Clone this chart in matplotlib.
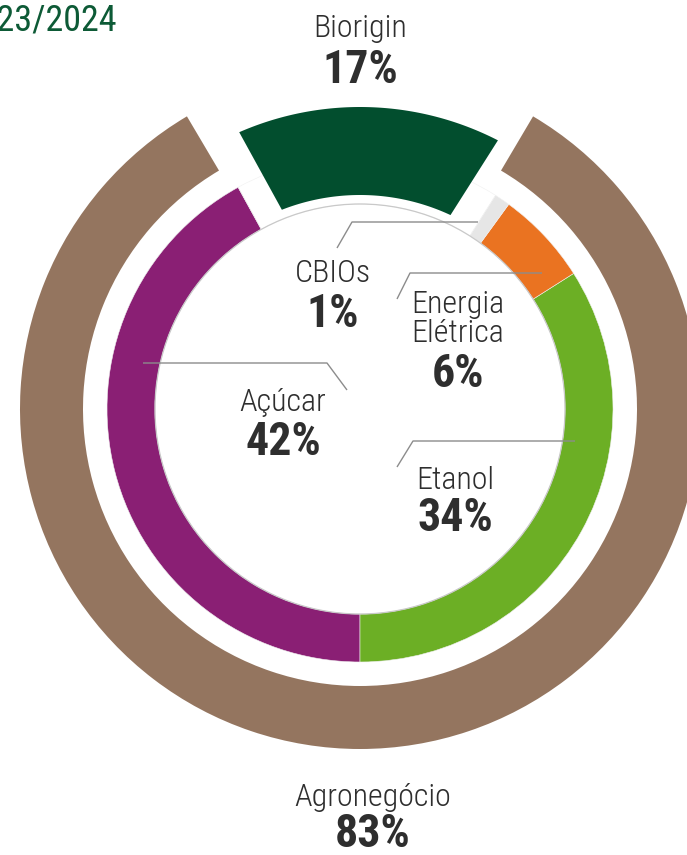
import numpy as np
import matplotlib
matplotlib.use("Agg")
import matplotlib.pyplot as plt
from matplotlib import font_manager
from matplotlib.patches import Polygon, Circle

# ---------------- data ----------------
title = "2023/2024"
inner_labels = ["Açúcar", "Etanol", "Energia\nElétrica", "CBIOs"]
inner_values = [42, 34, 6, 1]
inner_colors = ["#8a1f74", "#6caf25", "#ea7321", "#e6e6e6"]
outer_label = "Agronegócio"
outer_value = 83
outer_color = "#94755f"
bio_label = "Biorigin"
bio_value = 17
bio_color = "#024e2e"

# ---------------- fonts ----------------
fonts = font_manager.fontManager.ttflist
names = {f.name for f in fonts}
FONT, STRETCH, SCALE = "Liberation Sans", "normal", 0.86
for cand in ["Liberation Sans Narrow", "Roboto Condensed", "Arial Narrow", "Open Sans Condensed"]:
    if cand in names:
        FONT, STRETCH, SCALE = cand, "normal", 1.0
        break
else:
    if any(f.name == "DejaVu Sans" and str(f.stretch) in ("condensed", "semi-condensed", "75", "87")
           for f in fonts):
        FONT, STRETCH, SCALE = "DejaVu Sans", "condensed", 0.9
plt.rcParams["font.family"] = [FONT, "DejaVu Sans"]
TXT = "#2e2e2e"
LEAD = "#8c8c8c"

W, H = 687, 855
CX, CY = 360, 409  # chart centre in pixels


def P(px, py):
    return px - CX, CY - py


fig = plt.figure(figsize=(W / 100, H / 100), dpi=100)
ax = fig.add_axes([0, 0, 1, 1])

# ---------------- outer ring ----------------
start_outer = 90 + bio_value / 100 * 360 / 2
ax.pie([outer_value, 100 - outer_value], colors=[outer_color, "none"],
       startangle=start_outer, radius=340, counterclock=True,
       wedgeprops=dict(width=63, linewidth=0))

# ---------------- inner ring ----------------
start_inner = 270 - inner_values[0] / 100 * 360
ax.pie(inner_values + [bio_value], colors=inner_colors + ["none"],
       startangle=start_inner, radius=253, counterclock=True,
       wedgeprops=dict(width=48, linewidth=0.4, edgecolor="#f0f0f0"))
ax.add_patch(Circle((0, 0), 205, fill=False, edgecolor="#c9c9c9", linewidth=0.9, zorder=3))

# ---------------- Biorigin segment (gap of constant width) ----------------
theta_hi = start_inner
theta_lo = start_inner + sum(inner_values) / 100 * 360 - 360
r_in, r_out, gap = 214, 302, 27.5


def arc(r, a0, a1, n=80):
    t = np.radians(np.linspace(a0, a1, n))
    return np.column_stack([r * np.cos(t), r * np.sin(t)])


d_out = np.degrees(np.arcsin(gap / r_out))
d_in = np.degrees(np.arcsin(gap / r_in))
pts = np.vstack([arc(r_out, theta_lo + d_out, theta_hi - d_out),
                 arc(r_in, theta_hi - d_in, theta_lo + d_in)])
ax.add_patch(Polygon(pts, closed=True, facecolor=bio_color, edgecolor="none", zorder=4))

# ---------------- labels ----------------
LS, PS = 23 * SCALE, 33 * SCALE


def label(name, value, px, py_name, py_val):
    x, y = P(px, py_name)
    ax.text(x, y, name, ha="center", va="center", fontsize=LS, color=TXT,
            linespacing=0.98, fontstretch=STRETCH, fontweight="light", zorder=6)
    x, y = P(px, py_val)
    ax.text(x, y, f"{value}%", ha="center", va="center", fontsize=PS,
            fontweight="bold", fontstretch=STRETCH, color=TXT, zorder=6)


def leader(points):
    xy = np.array([P(*p) for p in points])
    ax.plot(xy[:, 0], xy[:, 1], color=LEAD, linewidth=1.0, zorder=5,
            solid_capstyle="butt")


label(bio_label, bio_value, 360, 28, 70)
label(outer_label, outer_value, 373, 798, 834)
label(inner_labels[3], inner_values[3], 333, 273, 314)
label(inner_labels[2], inner_values[2], 458, 319, 374)
label(inner_labels[0], inner_values[0], 283, 402, 442)
label(inner_labels[1], inner_values[1], 455, 480, 518)

leader([(337, 248), (352, 222), (478, 222)])
leader([(397, 299), (410, 273), (542, 273)])
leader([(143, 363), (327, 363), (347, 390)])
leader([(397, 467), (413, 441), (575, 441)])

# ---------------- title (left part cut by the figure edge) ----------------
x, y = P(117, 20)
ax.text(x, y, title, ha="right", va="center", fontsize=26 * SCALE, color="#0d5a36",
        fontstretch=STRETCH)

ax.set_xlim(-CX, W - CX)
ax.set_ylim(CY - H, CY)
ax.set_aspect("equal")
ax.axis("off")

fig.savefig("out.png", dpi=100)
